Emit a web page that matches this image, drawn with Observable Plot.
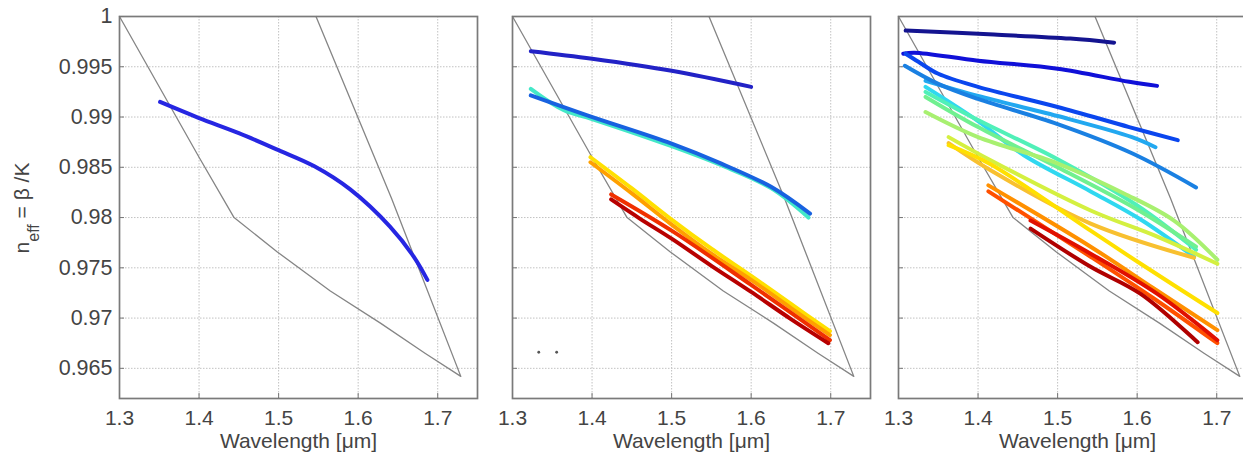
<!DOCTYPE html>
<html>
<head>
<meta charset="utf-8">
<script src="https://cdn.jsdelivr.net/npm/d3@7"></script>
<script src="https://cdn.jsdelivr.net/npm/@observablehq/plot@0.6"></script>
<style>
  html, body { margin: 0; padding: 0; background: #fff; overflow: hidden; }
  #row { display: flex; flex-direction: row; width: 1300px; }
  #row svg { flex: none; display: block; }
</style>
</head>
<body>
<div id="row"></div>
<script>
// ---------- data ----------
const xTicks = [1.3, 1.4, 1.5, 1.6, 1.7];
const yTicks = [0.965, 0.97, 0.975, 0.98, 0.985, 0.99, 0.995, 1];
const xLabel = "Wavelength [μm]";

// light-cone boundary (same in all panels)
const boundaryWl   = [1.300, 1.400, 1.444, 1.498, 1.565, 1.628, 1.684, 1.729, 1.642, 1.547];
const boundaryNeff = [1.000, 0.9860, 0.9800, 0.9766, 0.9727, 0.9695, 0.9665, 0.9642, 0.9819, 1.000];

// panel 1
const p1Names = ["a1"];
const p1Wl   = [[1.351, 1.400, 1.450, 1.500, 1.545, 1.590, 1.640, 1.670, 1.687]];
const p1Neff = [[0.9915, 0.9899, 0.9884, 0.9867, 0.9851, 0.9828, 0.9791, 0.9761, 0.9738]];

// panel 2
const p2Names = ["b1", "b2", "b3", "b4", "b5", "b6", "b7"];
const p2Wl = [
  [1.323, 1.400, 1.500, 1.600],
  [1.323, 1.364, 1.400, 1.500, 1.5625, 1.6255, 1.672],
  [1.323, 1.394, 1.500, 1.5625, 1.6255, 1.674],
  [1.398, 1.450, 1.500, 1.550, 1.600, 1.650, 1.699],
  [1.398, 1.450, 1.500, 1.550, 1.600, 1.650, 1.699],
  [1.424, 1.500, 1.600, 1.699],
  [1.424, 1.460, 1.500, 1.550, 1.600, 1.650, 1.697],
];
const p2Neff = [
  [0.99655, 0.9958, 0.9946, 0.9930],
  [0.9928, 0.9907, 0.9898, 0.9871, 0.9852, 0.9829, 0.9800],
  [0.99215, 0.99016, 0.98735, 0.98536, 0.98303, 0.98039],
  [0.9860, 0.9829, 0.9798, 0.9769, 0.9742, 0.9714, 0.9687],
  [0.9855, 0.9824, 0.9793, 0.9764, 0.9738, 0.9710, 0.9683],
  [0.9823, 0.9787, 0.9733, 0.9678],
  [0.9818, 0.9799, 0.9779, 0.9752, 0.9726, 0.9699, 0.9675],
];
const p2DotWl = [1.333, 1.3555];
const p2DotNeff = [0.9666, 0.9666];

// panel 3
const p3Names = ["c1","c2","c3","c4","c5","c6","c7","c8","c9","c10","c11","c12","c13","c14","c15","c16"];
const p3Wl = [
  [1.309, 1.420, 1.516, 1.571],
  [1.306, 1.320, 1.400, 1.500, 1.590, 1.625],
  [1.309, 1.325, 1.350, 1.400, 1.500, 1.590, 1.651],
  [1.334, 1.400, 1.500, 1.5935, 1.623],
  [1.308, 1.350, 1.400, 1.500, 1.5935, 1.674],
  [1.334, 1.400, 1.4576, 1.5415, 1.6044, 1.6715],
  [1.334, 1.400, 1.500, 1.600, 1.674],
  [1.334, 1.400, 1.500, 1.600, 1.674],
  [1.334, 1.400, 1.4996, 1.5834, 1.6463, 1.7008],
  [1.363, 1.4157, 1.5415, 1.6253, 1.7008],
  [1.363, 1.4157, 1.5415, 1.6715],
  [1.363, 1.4157, 1.5415, 1.6044, 1.7008],
  [1.413, 1.5415, 1.620, 1.7008],
  [1.413, 1.5415, 1.620, 1.7008],
  [1.466, 1.5415, 1.6253, 1.7008],
  [1.466, 1.5415, 1.6044, 1.676],
];
const p3Neff = [
  [0.9986, 0.9982, 0.9978, 0.9974],
  [0.9963, 0.9964, 0.9956, 0.9948, 0.9935, 0.9931],
  [0.9963, 0.9955, 0.9943, 0.9930, 0.9910, 0.9890, 0.9877],
  [0.9936, 0.9921, 0.9901, 0.9880, 0.9870],
  [0.9951, 0.9933, 0.9918, 0.9893, 0.9864, 0.9830],
  [0.9930, 0.9896, 0.9862, 0.9826, 0.9798, 0.9761],
  [0.9925, 0.9897, 0.9858, 0.9812, 0.9768],
  [0.9920, 0.9890, 0.9850, 0.9808, 0.9771],
  [0.9905, 0.9880, 0.9854, 0.9824, 0.9797, 0.9758],
  [0.9880, 0.9857, 0.9807, 0.9781, 0.9754],
  [0.9874, 0.9847, 0.9794, 0.9760],
  [0.9872, 0.9853, 0.9787, 0.9754, 0.9705],
  [0.9832, 0.9771, 0.9730, 0.9688],
  [0.9826, 0.9761, 0.9720, 0.9675],
  [0.9797, 0.9764, 0.9724, 0.9678],
  [0.9789, 0.9751, 0.9724, 0.9676],
];

// ---------- styles ----------
const p1Colors = ["#2626e2"];
const p2Colors = ["#2222c6", "#44e8c8", "#1862e0", "#ffe000", "#ffa000", "#f03000", "#b80000"];
const p3Colors = ["#141490", "#1010d8", "#0a46ee", "#22a8f0", "#1a80e2", "#30d8f0", "#50f0b8", "#70f090",
                  "#a8f070", "#d4f040", "#f8c030", "#ffe000", "#ff9000", "#ff5000", "#e01000", "#b00000"];
const FONT = "'Liberation Sans', Arial, Helvetica, sans-serif";
const TEXT = "#444";

// ---------- build ----------
function rowsOf(names, wl, neff) {
  return names.flatMap((n, i) => wl[i].map((w, j) => ({name: n, wl: w, neff: neff[i][j]})));
}
const boundaryRows = boundaryWl.map((w, i) => ({wl: w, neff: boundaryNeff[i]}));
const fmtY = d => String(+d.toFixed(3));

function panel({width, marginLeft, names, colors, wl, neff, yLabels, dots}) {
  const rows = rowsOf(names, wl, neff);
  const marks = [
    Plot.gridX(xTicks, {stroke: "#c2c2c2", strokeOpacity: 1, strokeDasharray: "1.5,1.5"}),
    Plot.gridY(yTicks, {stroke: "#c2c2c2", strokeOpacity: 1, strokeDasharray: "1.5,1.5"}),
    Plot.line(boundaryRows, {x: "wl", y: "neff", stroke: "#858585", strokeWidth: 1.3}),
    Plot.line(rows, {x: "wl", y: "neff", z: "name", stroke: "name", curve: "catmull-rom",
                     strokeWidth: 4, strokeLinejoin: "round", strokeLinecap: "round"}),
    Plot.frame({stroke: "#7a7a7a", strokeWidth: 1.7}),
    Plot.axisX(xTicks, {tickSize: 0, tickPadding: 12, tickFormat: d => String(d), label: null, fontSize: 21, fill: TEXT}),
    Plot.axisX(xTicks, {tickSize: -5, tickFormat: () => "", label: null, stroke: "#777"}),
    Plot.axisY(yTicks, {tickSize: -5, tickFormat: () => "", label: null, stroke: "#777"}),
    Plot.text([xLabel], {text: d => d, frameAnchor: "bottom", dy: 49, fontSize: 21, fill: TEXT})
  ];
  if (yLabels) marks.push(Plot.axisY(yTicks, {tickSize: 0, tickPadding: 7, tickFormat: fmtY, label: null, fontSize: 21.5, fill: TEXT}));
  if (dots) marks.push(Plot.dot(dots, {x: "wl", y: "neff", r: 1.4, fill: "#555", stroke: null}));
  return Plot.plot({
    width, height: 462,
    marginLeft, marginRight: 0, marginTop: 16, marginBottom: 64,
    x: {domain: [1.3, 1.75]},
    y: {domain: [0.962, 1]},
    color: {domain: names, range: colors},
    style: {fontFamily: FONT, fontSize: "20px", color: TEXT, background: "transparent", overflow: "visible"},
    marks
  });
}

const row = document.getElementById("row");
const c1 = panel({width: 477, marginLeft: 119, names: p1Names, colors: p1Colors, wl: p1Wl, neff: p1Neff, yLabels: true});
const c2 = panel({width: 393, marginLeft: 35, names: p2Names, colors: p2Colors, wl: p2Wl, neff: p2Neff, yLabels: false,
                  dots: p2DotWl.map((w, i) => ({wl: w, neff: p2DotNeff[i]}))});
const c3 = panel({width: 386, marginLeft: 28, names: p3Names, colors: p3Colors, wl: p3Wl, neff: p3Neff, yLabels: false});
row.append(c1, c2, c3);

// y-axis title with subscript
const t = d3.select(c1).append("text")
  .attr("transform", "translate(29,208) rotate(-90)")
  .attr("text-anchor", "middle")
  .attr("font-family", FONT)
  .attr("font-size", 21)
  .attr("fill", TEXT);
t.append("tspan").text("n");
t.append("tspan").attr("dy", 10).attr("font-size", 16).text("eff");
t.append("tspan").attr("dy", -10).text(" = β /K");
</script>
</body>
</html>
